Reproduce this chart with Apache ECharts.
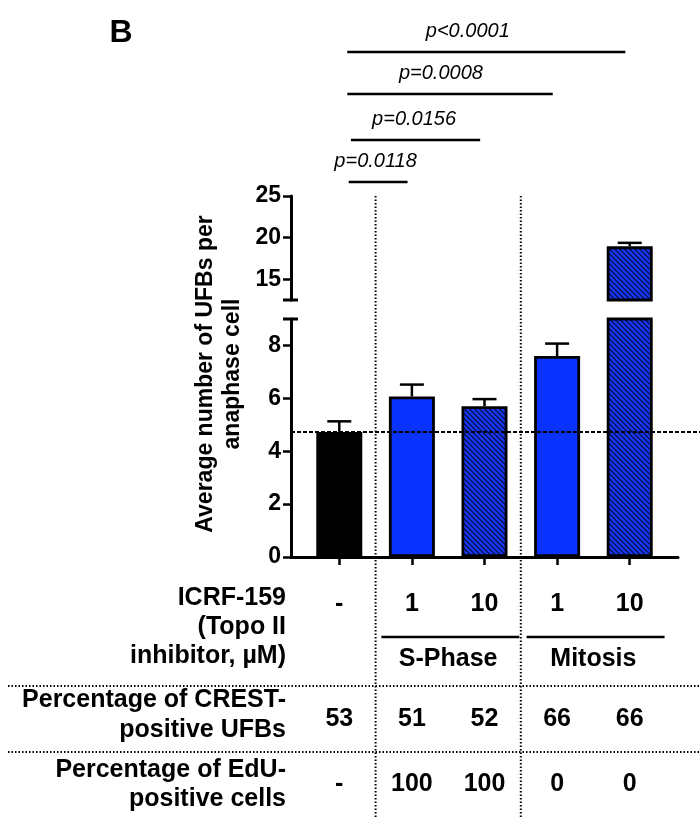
<!DOCTYPE html>
<html>
<head>
<meta charset="utf-8">
<script src="https://cdn.jsdelivr.net/npm/echarts/dist/echarts.min.js"></script>
<style>
  html, body { margin: 0; padding: 0; background: #fff; }
  #main { width: 700px; height: 817px; }
</style>
</head>
<body>
<div id="main"></div>
<script>
  // ICRF-159 dose per group (µM), '-' = untreated control
  const doses = ['-', '1', '10', '1', '10'];
  const meanUFBs = [4.73, 6.07, 5.70, 7.60, 18.95];
  const semUFBs = [0.40, 0.45, 0.27, 0.47, 0.42];
  const hatched = [false, false, true, false, true];
  const crestPositive = ['53', '51', '52', '66', '66'];
  const eduPositive = ['-', '100', '100', '0', '0'];
  const phaseGroups = [
    { name: 'S-Phase', first: 1, last: 2 },
    { name: 'Mitosis', first: 3, last: 4 }
  ];
  const lowerTicks = [0, 2, 4, 6, 8];
  const upperTicks = [15, 20, 25];
  const comparisons = [
    { a: 0, b: 1, p: 'p=0.0118' },
    { a: 0, b: 2, p: 'p=0.0156' },
    { a: 0, b: 3, p: 'p=0.0008' },
    { a: 0, b: 4, p: 'p<0.0001' }
  ];

  const lowerMax = 9, upperMin = 12.5, upperMax = 25;
  const xPad = 0.665;
  const FONT = '"Liberation Sans", Arial, sans-serif';
  const BLUE = '#0a32ff';

  function hatchPattern() {
    const n = 5;
    const c = document.createElement('canvas');
    c.width = n; c.height = n;
    const ctx = c.getContext('2d');
    ctx.fillStyle = '#1636f5';
    ctx.fillRect(0, 0, n, n);
    ctx.fillStyle = '#0a1463';
    for (let y = 0; y < n; y++) {
      for (let x = 0; x < n; x++) {
        if ((((x - y) % n) + n) % n < 2) ctx.fillRect(x, y, 1, 1);
      }
    }
    return c;
  }
  const hatch = { image: hatchPattern(), repeat: 'repeat' };

  function barColor(i) {
    if (doses[i] === '-') return '#000';
    return hatched[i] ? hatch : BLUE;
  }

  const barItems = meanUFBs.map((v, i) => ({ value: [i, v], itemStyle: { color: barColor(i) } }));
  const upperBarItems = barItems.filter(d => d.value[1] > upperMin);
  const errLower = meanUFBs.map((v, i) => [i, v, v + semUFBs[i]]).filter(d => d[2] <= lowerMax);
  const errUpper = meanUFBs.map((v, i) => [i, v, v + semUFBs[i]]).filter(d => d[1] >= upperMin);

  function renderErr(params, api) {
    const x = api.value(0);
    const base = api.coord([x, api.value(1)]);
    const top = api.coord([x, api.value(2)]);
    const style = { stroke: '#000', lineWidth: 2.5 };
    return {
      type: 'group',
      children: [
        { type: 'line', shape: { x1: base[0], y1: base[1], x2: top[0], y2: top[1] }, style: style },
        { type: 'line', shape: { x1: top[0] - 12, y1: top[1], x2: top[0] + 12, y2: top[1] }, style: style }
      ]
    };
  }

  const yLabel = { color: '#000', fontSize: 23, fontWeight: 'bold', fontFamily: FONT, margin: 10 };
  const axisLine = { show: true, onZero: false, lineStyle: { color: '#000', width: 3 } };
  const tickStyle = { color: '#000', width: 2.5 };

  const chart = echarts.init(document.getElementById('main'));
  chart.setOption({
    animation: false,
    backgroundColor: '#fff',
    grid: [
      { left: 291, right: 22, top: 196, height: 104 },
      { left: 291, right: 22, top: 319, height: 238 }
    ],
    xAxis: [
      { type: 'value', gridIndex: 0, min: -xPad, max: doses.length - 1 + xPad, show: false },
      {
        type: 'value', gridIndex: 1, min: -xPad, max: doses.length - 1 + xPad,
        axisLine: axisLine,
        axisTick: { show: true, customValues: doses.map((d, i) => i), length: 8, lineStyle: tickStyle },
        axisLabel: { show: false },
        splitLine: { show: false }
      }
    ],
    yAxis: [
      {
        type: 'value', gridIndex: 0, min: upperMin, max: upperMax,
        axisLine: axisLine,
        axisTick: { show: true, customValues: upperTicks, length: 8, lineStyle: tickStyle },
        axisLabel: Object.assign({ customValues: upperTicks }, yLabel),
        splitLine: { show: false }
      },
      {
        type: 'value', gridIndex: 1, min: 0, max: lowerMax,
        axisLine: axisLine,
        axisTick: { show: true, customValues: lowerTicks, length: 8, lineStyle: tickStyle },
        axisLabel: Object.assign({ customValues: lowerTicks }, yLabel),
        splitLine: { show: false }
      }
    ],
    series: [
      {
        type: 'bar', xAxisIndex: 0, yAxisIndex: 0, barWidth: 46, data: upperBarItems,
        itemStyle: { borderColor: '#000', borderWidth: 2.8 }
      },
      {
        type: 'bar', xAxisIndex: 1, yAxisIndex: 1, barWidth: 46, data: barItems,
        itemStyle: { borderColor: '#000', borderWidth: 2.8 }
      },
      { type: 'custom', xAxisIndex: 0, yAxisIndex: 0, data: errUpper, renderItem: renderErr, encode: { x: 0, y: 2 }, z: 3 },
      { type: 'custom', xAxisIndex: 1, yAxisIndex: 1, data: errLower, renderItem: renderErr, encode: { x: 0, y: 2 }, z: 3 }
    ]
  });

  // annotations and table placed through the axes
  const px = v => chart.convertToPixel({ xAxisIndex: 1 }, v);
  const pyLow = v => chart.convertToPixel({ yAxisIndex: 1 }, v);
  const pyUp = v => chart.convertToPixel({ yAxisIndex: 0 }, v);
  const axisX = px(-xPad);
  const H = 817;

  const g = [];
  const txt = (x, y, text, opt) => g.push({
    type: 'text', x: x, y: y, z: 10,
    style: Object.assign({ text: text, fill: '#000', fontFamily: FONT, fontSize: 25, fontWeight: 'bold', align: 'center', verticalAlign: 'middle' }, opt || {})
  });
  const line = (x1, y1, x2, y2, style) => g.push({
    type: 'line', z: 10, shape: { x1: x1, y1: y1, x2: x2, y2: y2 },
    style: Object.assign({ stroke: '#000', lineWidth: 2.5 }, style || {})
  });

  txt(121, 33, 'B', { fontSize: 32 });
  g.push({
    type: 'text', x: 219, y: 374, rotation: Math.PI / 2, z: 10,
    style: { text: 'Average number of UFBs per\nanaphase cell', fill: '#000', fontFamily: FONT, fontSize: 23, fontWeight: 'bold', align: 'center', verticalAlign: 'middle', lineHeight: 27 }
  });

  // p-value brackets
  const bracketY = [182, 140, 94, 52];
  const bracketStart = [0.13, 0.16, 0.11, 0.11];
  const labelAt = [0.5, 1.03, 1.4, 1.77];
  comparisons.forEach((c, k) => {
    line(px(c.a + bracketStart[k]), bracketY[k], px(c.b - 0.06), bracketY[k]);
    txt(px(labelAt[k]), bracketY[k] - 21, c.p, { fontSize: 20, fontWeight: 'normal', fontStyle: 'italic' });
  });

  // axis break caps
  line(axisX - 8, pyUp(upperMin), axisX + 7, pyUp(upperMin), { lineWidth: 3 });
  line(axisX - 8, pyLow(lowerMax), axisX + 7, pyLow(lowerMax), { lineWidth: 3 });

  // control mean reference line
  line(axisX, pyLow(meanUFBs[0]), 700, pyLow(meanUFBs[0]), { lineWidth: 2, lineDash: [4, 2] });

  // vertical group separators
  [0.5, 2.5].forEach(v => line(px(v), pyUp(upperMax), px(v), H, { lineWidth: 2, lineDash: [1.5, 2] }));

  // table
  txt(286, 627, 'ICRF-159\n(Topo II\ninhibitor, µM)', { align: 'right', lineHeight: 29 });
  doses.forEach((d, i) => txt(px(i), 604, d));
  phaseGroups.forEach(p => {
    line(px(p.first - 0.42), 637, px(p.last + 0.48), 637);
    txt(px((p.first + p.last) / 2), 659, p.name);
  });
  line(8, 686, 700, 686, { lineWidth: 2, lineDash: [1.5, 2] });
  txt(286, 715, 'Percentage of CREST-\npositive UFBs', { align: 'right', lineHeight: 30 });
  crestPositive.forEach((d, i) => txt(px(i), 719, d));
  line(8, 752, 700, 752, { lineWidth: 2, lineDash: [1.5, 2] });
  txt(286, 785, 'Percentage of EdU-\npositive cells', { align: 'right', lineHeight: 29 });
  eduPositive.forEach((d, i) => txt(px(i), 784, d));

  chart.setOption({ graphic: g });
</script>
</body>
</html>
